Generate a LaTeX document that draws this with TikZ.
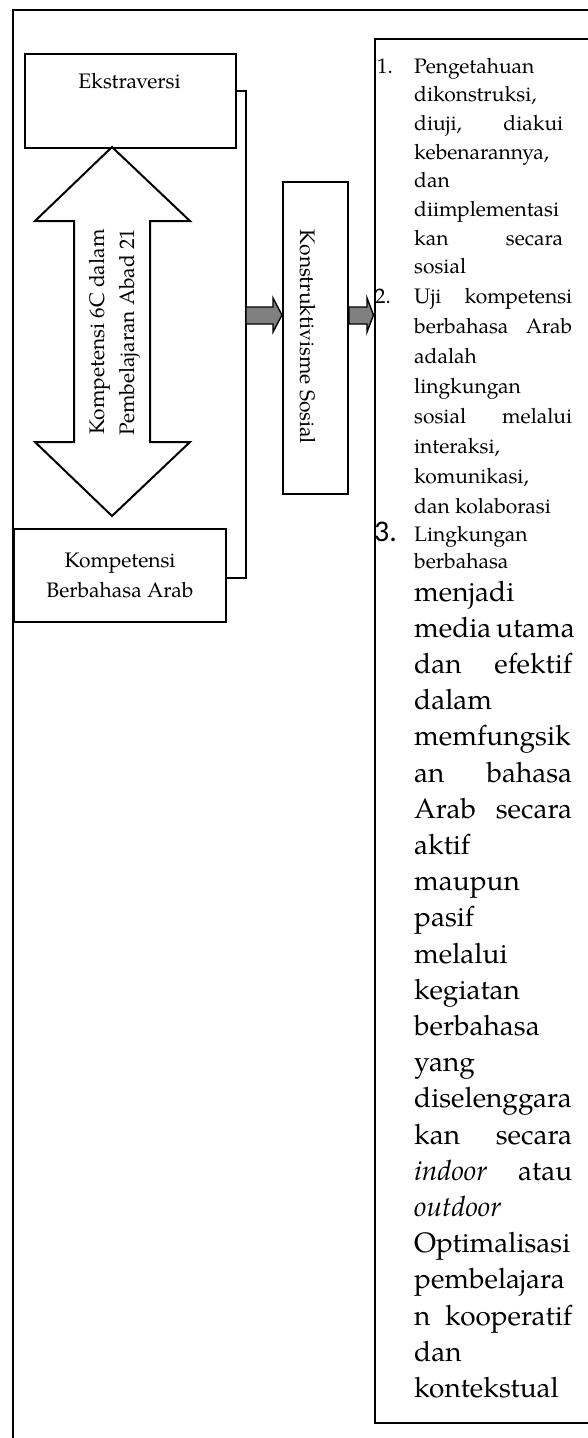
\documentclass[tikz,border=0pt]{standalone}
\usepackage{fontspec}
\setmainfont{texgyrepagella}[Extension=.otf, UprightFont=*-regular, ItalicFont=*-italic, BoldFont=*-bold, BoldItalicFont=*-bolditalic]
\newfontfamily\numfont{Carlito}
\definecolor{arrowgray}{RGB}{128,128,128}
\newcommand\mkJ[2]{\makebox[#1pt][s]{#2}}
\tikzset{
  boxline/.style={draw=black, line width=2pt},
  frameline/.style={draw=black, line width=1.8pt},
  txt/.style={inner sep=0pt, font=\fontsize{21pt}{30pt}\selectfont},
  sl/.style={anchor=base west, inner sep=0pt, font=\fontsize{21pt}{27pt}\selectfont},
  ll/.style={anchor=base west, inner sep=0pt, font=\fontsize{28pt}{36pt}\selectfont},
  garrow/.style={fill=arrowgray, draw=black, line width=1.4pt, line join=miter}
}
\begin{document}
\begin{tikzpicture}[x=1pt,y=-1pt]
\useasboundingbox (0,0) rectangle (588,1438);
\clip (0,0) rectangle (588,1438);
\fill[white] (0,0) rectangle (588,1438);
% outer frame (cut by the page)
\draw[frameline] (13,1460) -- (13,10) -- (610,10);
% Ekstraversi
\node[boxline, minimum width=211pt, minimum height=94pt, anchor=north west, inner sep=0pt] (ek) at (24,53) {};
\node[txt] (ekt) at (129.5,81) {Ekstraversi};
% double arrow
\draw[boxline, line join=miter] (112,147) -- (190,221) -- (150,221) -- (150,442) -- (190,442) -- (112,516)
   -- (35,442) -- (74,442) -- (74,221) -- (35,221) -- cycle;
\node[txt, rotate=90, align=center] (kom) at (115,332) {Kompetensi 6C dalam\\Pembelajaran Abad 21};
% Kompetensi Berbahasa Arab
\node[boxline, txt, minimum width=212pt, minimum height=93pt, anchor=north west, align=center] (kba) at (13,528) {Kompetensi\\Berbahasa Arab};
% bracket
\coordinate (bt) at (246,91);
\coordinate (bb) at (246,578);
\draw[boxline] (ek.east |- bt) -- (bt) -- (bb) -- (kba.east |- bb);
% Konstruktivisme Sosial
\node[boxline, minimum width=65pt, minimum height=312pt, anchor=north west, inner sep=0pt] (ks) at (282,181) {};
\node[txt, rotate=-90] (kst) at (308,337) {Konstruktivisme Sosial};
% list box
\node[boxline, minimum width=260pt, minimum height=1384pt, anchor=north west, inner sep=0pt] (lb) at (373.5,38) {};
% gray block arrows
\coordinate (a1) at (246,315);
\draw[garrow] (a1 |- 0,307) -- (273,307) -- (273,298) -- (ks.west |- a1) -- (273,332) -- (273,324) -- (a1 |- 0,324) -- cycle;
\coordinate (a2) at (ks.east |- a1);
\draw[garrow] (a2 |- 0,307) -- (367,307) -- (367,298) -- (lb.west |- a1) -- (367,332) -- (367,324) -- (a2 |- 0,324) -- cycle;
% item 1
\node[sl] (n1) at (377,73) {1.};
\foreach \t [count=\i from 0] in {Pengetahuan, {dikonstruksi,}, {\mkJ{149}{diuji, diakui}}, {kebenarannya,}, dan, diimplementasi, {\mkJ{149}{kan secara}}, sosial}
  \node[sl] (p\i) at (414,{73+28.7*\i}) {\t};
% item 2
\node[sl] (n2) at (375,303) {2.};
\foreach \t [count=\i from 0] in {{\mkJ{158}{Uji kompetensi}}, {\mkJ{158}{berbahasa Arab}}, adalah, lingkungan, {\mkJ{158}{sosial melalui}}, {interaksi,}, {komunikasi,}, {dan kolaborasi}}
  \node[sl] (q\i) at (414,{303+30*\i}) {\t};
% item 3
\node[anchor=base west, inner sep=0pt, font=\numfont\fontsize{30pt}{30pt}\selectfont] (n3) at (374,541) {3.};
\node[sl] (r0) at (414,541) {Lingkungan};
\node[sl] (r1) at (414,568) {berbahasa};
\foreach \t [count=\i from 0] in {menjadi, {\mkJ{158}{media utama}}, {\mkJ{158}{dan efektif}}, dalam, memfungsik, {\mkJ{158}{an bahasa}}, {\mkJ{158}{Arab secara}}, aktif, maupun, pasif, melalui, kegiatan, berbahasa, yang, diselenggara, {\mkJ{158}{kan secara}}, {\mkJ{158}{\textit{indoor} atau}}, {\textit{outdoor}}, Optimalisasi, pembelajara, {\mkJ{158}{n kooperatif}}, dan, kontekstual}
  \node[ll] (c\i) at (414,{601+36.2*\i}) {\t};
\end{tikzpicture}
\end{document}
